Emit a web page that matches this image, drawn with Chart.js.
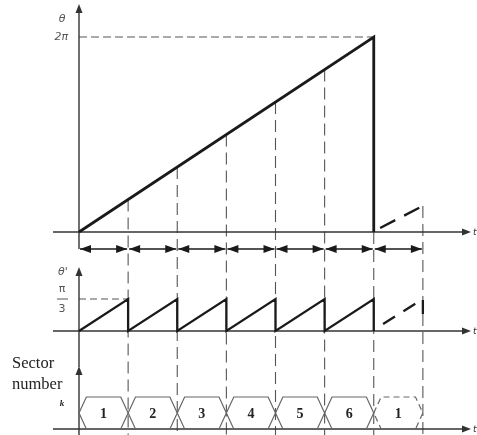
<!DOCTYPE html>
<html>
<head>
<meta charset="utf-8">
<script src="https://cdn.jsdelivr.net/npm/chart.js@4"></script>
<style>
  body { margin: 0; background: #fff; }
  #wrap { position: relative; width: 477px; height: 435px; }
  #wrap canvas { position: absolute; left: 0; top: 0; }
</style>
</head>
<body>
<div id="wrap">
  <canvas id="thetaChart" width="477" height="435"></canvas>
  <canvas id="primeChart" width="477" height="435"></canvas>
  <canvas id="sectorChart" width="477" height="435"></canvas>
</div>
<script>
const PI = Math.PI;

// sector boundaries, in units of one 60 deg sector
const sectorBounds = [0, 1, 2, 3, 4, 5, 6, 7];
const sectorLabels = ["1", "2", "3", "4", "5", "6", "1"];

// theta over one revolution, then the start of the next one (dashed)
const thetaX = [0, 6, 6];
const thetaY = [0, 2 * PI, 0];
const thetaNextX = [6.13, 7];
const thetaNextY = [0.13, 0.84];
// where each dashed sector guide starts on the theta plot
const guideFrom = [null, PI / 3, 2 * PI / 3, PI, 4 * PI / 3, 5 * PI / 3, 0, 0.84];

// theta' = angle inside the current sector
const primeX = [0, 1, 1, 2, 2, 3, 3, 4, 4, 5, 5, 6, 6];
const primeY = [0, PI / 3, 0, PI / 3, 0, PI / 3, 0, PI / 3, 0, PI / 3, 0, PI / 3, 0];
const primeNextX = [6.19, 7, 7];
const primeNextY = [0.23, PI / 3, 0.52];

const ink = "#1a1a1a";
const axisInk = "#333";
const dashInk = "#555";

function pts(xs, ys) {
  return xs.map((x, i) => ({ x: x, y: ys[i] }));
}

function tri(ctx, x, y, dx, dy, len, half) {
  const bx = x - dx * len, by = y - dy * len;
  ctx.beginPath();
  ctx.moveTo(x, y);
  ctx.lineTo(bx - dy * half, by + dx * half);
  ctx.lineTo(bx + dy * half, by - dx * half);
  ctx.closePath();
  ctx.fill();
}

function seg(ctx, x1, y1, x2, y2, dash) {
  ctx.setLineDash(dash || []);
  ctx.beginPath();
  ctx.moveTo(x1, y1);
  ctx.lineTo(x2, y2);
  ctx.stroke();
  ctx.setLineDash([]);
}

function baseOptions(pad, yMax) {
  return {
    responsive: false,
    animation: false,
    events: [],
    layout: { padding: pad },
    plugins: { legend: { display: false }, tooltip: { enabled: false } },
    scales: {
      x: { type: "linear", min: 0, max: 8, display: false },
      y: { type: "linear", min: 0, max: yMax, display: false }
    },
    elements: { point: { radius: 0 }, line: { tension: 0 } }
  };
}

function lineSet(data, width, dash, color) {
  return {
    data: data,
    borderColor: color || ink,
    borderWidth: width,
    borderDash: dash || [],
    borderJoinStyle: "miter",
    fill: false,
    clip: false
  };
}

// x axis with arrow, shared look for all three panels
function xAxis(ctx, y) {
  ctx.strokeStyle = axisInk;
  ctx.fillStyle = axisInk;
  ctx.lineWidth = 1.4;
  seg(ctx, 53, y, 464, y);
  tri(ctx, 471, y, 1, 0, 9, 3.5);
  ctx.font = "italic 9px 'DejaVu Sans'";
  ctx.textBaseline = "middle";
  ctx.textAlign = "left";
  ctx.fillText("t", 473, y + 1);
}

// ---- top panel: theta ----
new Chart(document.getElementById("thetaChart"), {
  type: "line",
  data: {
    datasets: [
      lineSet(pts(thetaX, thetaY), 2.8),
      lineSet(pts(thetaNextX, thetaNextY), 2.4, [17, 10])
    ]
  },
  options: baseOptions({ left: 79, right: 5, top: 37, bottom: 203 }, 2 * PI),
  plugins: [{
    id: "thetaDecor",
    beforeDatasetsDraw(chart) {
      const ctx = chart.ctx, xs = chart.scales.x, ys = chart.scales.y;
      const x0 = xs.getPixelForValue(0), y0 = ys.getPixelForValue(0);
      ctx.save();
      // dashed sector guides down through all panels
      ctx.strokeStyle = dashInk;
      ctx.lineWidth = 1.1;
      for (let i = 1; i < sectorBounds.length; i++) {
        const gx = xs.getPixelForValue(sectorBounds[i]);
        seg(ctx, gx, ys.getPixelForValue(guideFrom[i]), gx, 435, [12, 6]);
      }
      // 2*pi level
      const yTop = ys.getPixelForValue(2 * PI);
      seg(ctx, x0, yTop, xs.getPixelForValue(6), yTop, [8, 4]);
      // axes
      ctx.strokeStyle = axisInk;
      ctx.fillStyle = axisInk;
      ctx.lineWidth = 1.4;
      seg(ctx, x0, 249, x0, 12);
      tri(ctx, x0, 4, 0, -1, 9, 3.5);
      xAxis(ctx, y0);
      // sector width arrows
      const ay = 249;
      ctx.strokeStyle = ink;
      ctx.fillStyle = ink;
      ctx.lineWidth = 1.3;
      for (let i = 0; i < sectorBounds.length - 1; i++) {
        const a = xs.getPixelForValue(sectorBounds[i]) + 1;
        const b = xs.getPixelForValue(sectorBounds[i + 1]) - 1;
        seg(ctx, a, ay, b, ay);
        tri(ctx, a, ay, -1, 0, 11, 4);
        tri(ctx, b, ay, 1, 0, 11, 4);
      }
      // labels
      ctx.fillStyle = "#555";
      ctx.font = "italic 11px 'DejaVu Sans'";
      ctx.textAlign = "center";
      ctx.textBaseline = "middle";
      ctx.fillText("\u03B8", 62, 19);
      ctx.textAlign = "right";
      ctx.fillText("2\u03C0", 68, yTop);
      ctx.restore();
    }
  }]
});

// ---- middle panel: theta' ----
new Chart(document.getElementById("primeChart"), {
  type: "line",
  data: {
    datasets: [
      lineSet(pts(primeX, primeY), 2.3),
      lineSet(pts(primeNextX, primeNextY), 2.3, [14, 10])
    ]
  },
  options: baseOptions({ left: 79, right: 5, top: 299, bottom: 104 }, PI / 3),
  plugins: [{
    id: "primeDecor",
    beforeDatasetsDraw(chart) {
      const ctx = chart.ctx, xs = chart.scales.x, ys = chart.scales.y;
      const x0 = xs.getPixelForValue(0), y0 = ys.getPixelForValue(0);
      const yTop = ys.getPixelForValue(PI / 3);
      ctx.save();
      ctx.strokeStyle = dashInk;
      ctx.lineWidth = 1.1;
      seg(ctx, x0, yTop, xs.getPixelForValue(1), yTop, [7, 4]);
      ctx.strokeStyle = axisInk;
      ctx.fillStyle = axisInk;
      ctx.lineWidth = 1.4;
      seg(ctx, x0, 367, x0, 275);
      tri(ctx, x0, 267, 0, -1, 9, 3.5);
      xAxis(ctx, y0);
      // labels
      ctx.fillStyle = "#555";
      ctx.font = "italic 11px 'DejaVu Sans'";
      ctx.textAlign = "center";
      ctx.textBaseline = "middle";
      ctx.fillText("\u03B8'", 63, 272);
      ctx.font = "11px 'DejaVu Sans'";
      ctx.fillText("\u03C0", 62, 289);
      ctx.fillText("3", 62, 309);
      ctx.lineWidth = 1;
      ctx.strokeStyle = "#555";
      seg(ctx, 57, yTop, 68, yTop);
      ctx.restore();
    }
  }]
});

// ---- bottom panel: sector number ----
const hexW = 0.15;
const hexSets = sectorLabels.map((lab, i) => {
  const a = sectorBounds[i], b = sectorBounds[i + 1];
  const shape = [
    { x: a, y: 0.5 }, { x: a + hexW, y: 1 }, { x: b - hexW, y: 1 },
    { x: b, y: 0.5 }, { x: b - hexW, y: 0 }, { x: a + hexW, y: 0 }, { x: a, y: 0.5 }
  ];
  const last = i === sectorLabels.length - 1;
  return lineSet(shape, 1.2, last ? [6, 4] : [], "#666");
});

new Chart(document.getElementById("sectorChart"), {
  type: "line",
  data: { datasets: hexSets },
  options: baseOptions({ left: 79, right: 5, top: 397, bottom: 6 }, 1),
  plugins: [{
    id: "sectorDecor",
    beforeDatasetsDraw(chart) {
      const ctx = chart.ctx, xs = chart.scales.x, ys = chart.scales.y;
      const x0 = xs.getPixelForValue(0), y0 = ys.getPixelForValue(0);
      ctx.save();
      ctx.strokeStyle = axisInk;
      ctx.fillStyle = axisInk;
      ctx.lineWidth = 1.4;
      seg(ctx, x0, 435, x0, 374);
      tri(ctx, x0, 366, 0, -1, 9, 3.5);
      xAxis(ctx, y0);
      ctx.restore();
    },
    afterDatasetsDraw(chart) {
      const ctx = chart.ctx, xs = chart.scales.x, ys = chart.scales.y;
      ctx.save();
      ctx.fillStyle = "#222";
      ctx.font = "bold 14px 'Liberation Serif'";
      ctx.textAlign = "center";
      ctx.textBaseline = "middle";
      const ym = ys.getPixelForValue(0.5);
      sectorLabels.forEach((lab, i) => {
        const cx = xs.getPixelForValue((sectorBounds[i] + sectorBounds[i + 1]) / 2);
        ctx.fillText(lab, cx, ym + 1);
      });
      ctx.font = "16.5px 'Liberation Serif'";
      ctx.textAlign = "left";
      ctx.fillText("Sector", 12, 364);
      ctx.fillText("number", 12, 385);
      ctx.font = "italic bold 9px 'Liberation Serif'";
      ctx.textAlign = "center";
      ctx.fillText("k", 62, 404);
      ctx.restore();
    }
  }]
});
</script>
</body>
</html>
